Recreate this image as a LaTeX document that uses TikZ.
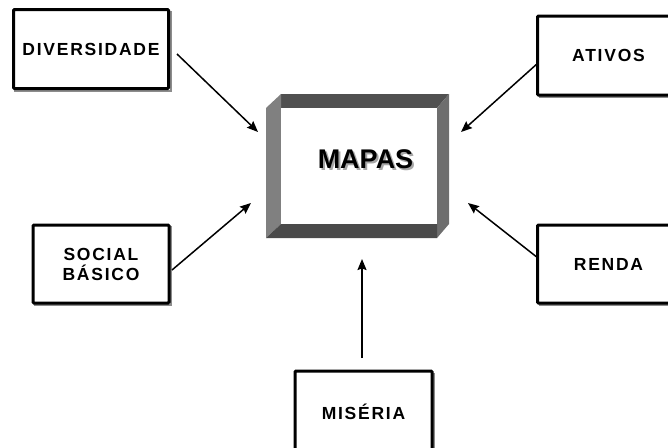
\documentclass[tikz,border=0pt]{standalone}
\usepackage{fontspec}
\setmainfont{Liberation Sans}
\newfontfamily\lblfont[LetterSpace=10]{Liberation Sans}
\usetikzlibrary{arrows.meta}
\definecolor{bevtop}{HTML}{505050}
\definecolor{bevleft}{HTML}{808080}
\definecolor{bevright}{HTML}{6E6E6E}
\definecolor{bevbot}{HTML}{4A4A4A}
\tikzset{
  x=1pt, y=-1pt,
  lblbox/.style={draw=black, line width=3pt, rounded corners=1pt, fill=white,
    font=\lblfont\fontsize{17.5}{20}\selectfont\bfseries, align=center,
    inner sep=0pt},
  arr/.style={line width=1.5pt, -{Stealth[length=11pt,width=9pt,inset=1.5pt]}},
  mapastxt/.style={font=\fontsize{27}{30}\selectfont\bfseries, inner sep=0pt}
}
\begin{document}
\begin{tikzpicture}
\useasboundingbox (0,0) rectangle (668,447);
% MAPAS bevel frame
\node[minimum width=183pt, minimum height=144pt, inner sep=0pt] (mapas) at (357.5,166) {};
\fill[bevtop] (281,94) -- (449,94) -- (437,108) -- (281,108) -- cycle;
\fill[bevleft] (266,108) -- (281,94) -- (281,224) -- (266,238) -- cycle;
\fill[bevright] (449,94) -- (449,224) -- (437,238) -- (437,108) -- cycle;
\fill[bevbot] (266,238) -- (281,224) -- (437,224) -- (437,238) -- cycle;
\fill[white] (281,108) rectangle (437,224);
\node[mapastxt] (mapastext) at (365.5,160)
  {\makebox[0pt][l]{\hspace{2pt}\raisebox{-2pt}{\color{black!35}MAPAS}}MAPAS};
% boxes (shadow lines)
\draw[black!45, line width=1.5pt] (15,12) rectangle (171,91);
\draw[black!45, line width=1.5pt] (35,227) rectangle (171,305);
\draw[black!45, line width=1.5pt] (297,374) rectangle (434,460);
\draw[black!45, line width=1.5pt] (540,19) rectangle (682,97);
\draw[black!45, line width=1.5pt] (540,227) rectangle (682,305);
\node[lblbox, minimum width=155pt, minimum height=79pt] (div) at (91,49) {DIVERSIDADE};
\node[lblbox, minimum width=142pt, minimum height=79pt] (ativ) at (608.5,55.5) {ATIVOS};
\node[lblbox, minimum width=136pt, minimum height=78pt] (soc) at (101,264) {SOCIAL\\BÁSICO};
\node[lblbox, minimum width=142pt, minimum height=78pt] (renda) at (608.5,264) {RENDA};
\node[lblbox, minimum width=137pt, minimum height=84pt] (mis) at (363.5,413) {\raisebox{2pt}{MISÉRIA}};
% arrow end coordinates
\coordinate (divs) at (177,54);   \coordinate (divt) at (258,132);
\coordinate (ativs) at (538,63);  \coordinate (ativt) at (461,132);
\coordinate (socs) at (172,270);  \coordinate (soct) at (251,203);
\coordinate (rens) at (538,258);  \coordinate (rent) at (468,203);
\coordinate (miss) at (362,358);  \coordinate (mist) at (362,259);
\draw[arr] (divs) -- (divt);
\draw[arr] (ativs) -- (ativt);
\draw[arr] (socs) -- (soct);
\draw[arr] (rens) -- (rent);
\draw[arr] (miss) -- (mist);
\end{tikzpicture}
\end{document}
